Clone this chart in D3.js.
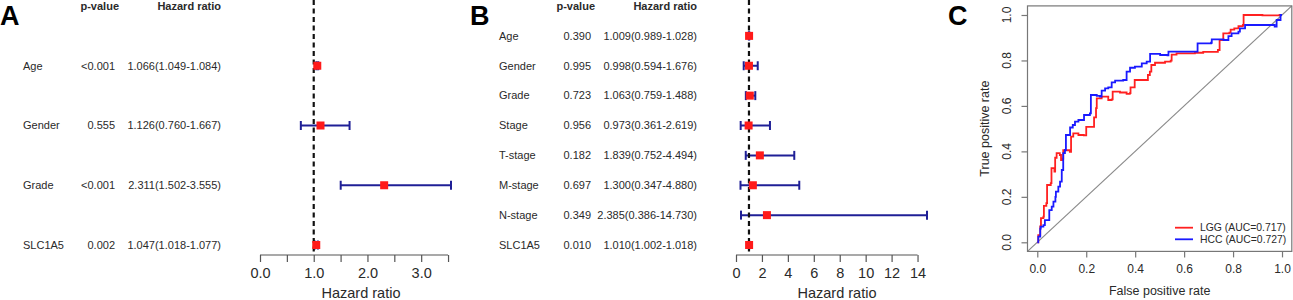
<!DOCTYPE html>
<html><head><meta charset="utf-8">
<script src="https://cdn.jsdelivr.net/npm/d3@7"></script>
<style>body{margin:0;background:#fff}svg{display:block;font-family:"Liberation Sans",Arial,Helvetica,sans-serif}</style>
</head><body><svg id="c" width="1293" height="300"></svg>
<script>
// ---- Panel A data ----
const catsA = ["Age","Gender","Grade","SLC1A5"];
const pA    = ["<0.001","0.555","<0.001","0.002"];
const hrA   = [1.066,1.126,2.311,1.047];
const lowA  = [1.049,0.760,1.502,1.018];
const highA = [1.084,1.667,3.555,1.077];
const ticksA = [0,0.5,1,1.5,2,2.5,3,3.5];
const tickLabelsA = ["0.0","","1.0","","2.0","","3.0",""];
// ---- Panel B data ----
const catsB = ["Age","Gender","Grade","Stage","T-stage","M-stage","N-stage","SLC1A5"];
const pB    = ["0.390","0.995","0.723","0.956","0.182","0.697","0.349","0.010"];
const hrB   = [1.009,0.998,1.063,0.973,1.839,1.300,2.385,1.010];
const lowB  = [0.989,0.594,0.759,0.361,0.752,0.347,0.386,1.002];
const highB = [1.028,1.676,1.488,2.619,4.494,4.880,14.730,1.018];
const ticksB = [0,2,4,6,8,10,12,14];
const tickLabelsB = ["0","2","4","6","8","10","12","14"];
// ---- Panel C data (ROC) ----
const lggFpr = [0,0.004,0.012,0.015,0.025,0.027,0.037,0.040,0.055,0.058,0.070,0.073,0.079,0.092,0.097,0.104,0.106,0.133,0.138,0.147,0.168,0.190,0.195,0.200,0.228,0.232,0.240,0.243,0.263,0.285,0.290,0.304,0.308,0.338,0.365,0.378,0.381,0.395,0.398,0.440,0.452,0.460,0.466,0.481,0.522,0.545,0.549,0.569,0.644,0.678,0.738,0.745,0.760,0.785,0.790,0.805,0.822,0.840,0.843,0.920,0.990,1];
const lggTpr = [0,0.032,0.070,0.106,0.113,0.160,0.172,0.252,0.260,0.326,0.311,0.372,0.392,0.384,0.362,0.368,0.405,0.398,0.465,0.479,0.472,0.470,0.470,0.508,0.508,0.550,0.590,0.633,0.641,0.641,0.626,0.629,0.663,0.659,0.653,0.656,0.682,0.682,0.714,0.714,0.736,0.751,0.780,0.790,0.795,0.799,0.826,0.831,0.834,0.838,0.846,0.890,0.919,0.922,0.936,0.941,0.951,0.956,1.000,0.998,1.000,1];
const hccFpr = [0,0.004,0.012,0.014,0.025,0.031,0.045,0.049,0.059,0.066,0.074,0.076,0.086,0.093,0.100,0.100,0.106,0.106,0.113,0.117,0.134,0.145,0.154,0.168,0.181,0.191,0.215,0.219,0.243,0.256,0.263,0.277,0.290,0.304,0.318,0.351,0.365,0.379,0.399,0.427,0.447,0.461,0.502,0.532,0.536,0.651,0.655,0.710,0.713,0.761,0.781,0.794,0.822,0.828,0.849,0.944,0.970,0.978,0.994,1];
const hccTpr = [0,0.025,0.060,0.069,0.076,0.098,0.098,0.142,0.157,0.179,0.200,0.223,0.245,0.267,0.285,0.318,0.347,0.392,0.406,0.472,0.505,0.516,0.531,0.538,0.538,0.560,0.567,0.648,0.644,0.641,0.667,0.677,0.682,0.704,0.711,0.714,0.751,0.768,0.773,0.787,0.795,0.829,0.824,0.822,0.839,0.839,0.875,0.878,0.893,0.890,0.907,0.919,0.927,0.941,0.956,0.956,0.949,0.978,1.000,1];
const rocTicks = [0,0.2,0.4,0.6,0.8,1.0];
const legendLabels = ["LGG (AUC=0.717)","HCC (AUC=0.727)"];

const svg = d3.select("#c");
const TXT = "#2a2a2a", AX = "#555";
const f3 = d3.format(".3f");

function forest(off, letter, letterX, cats, pv, hr, lo, hi, ticks, tickLabels) {
  svg.append("text").attr("x", letterX).attr("y", 25).attr("font-size", 27).attr("font-weight", "bold").attr("fill", "#000").text(letter);
  const g = svg.append("g").attr("transform", `translate(${off},0)`);
  const n = cats.length;
  const y = d3.scaleLinear().domain([-1, n - 1]).range([6, 245]);
  const x = d3.scaleLinear().domain([0, d3.max(hi)]).range([260, 451]);
  const axisY = 255;
  g.append("text").attr("x", 119).attr("y", y(-1)).attr("dy", ".35em").attr("text-anchor", "end").attr("font-size", 11).attr("font-weight", "bold").attr("fill", TXT).text("p-value");
  g.append("text").attr("x", 221).attr("y", y(-1)).attr("dy", ".35em").attr("text-anchor", "end").attr("font-size", 11).attr("font-weight", "bold").attr("fill", TXT).text("Hazard ratio");
  const rows = g.selectAll("g.row").data(cats.map((c, i) => ({c, i, p: pv[i], hr: hr[i], lo: lo[i], hi: hi[i]}))).join("g");
  rows.append("text").attr("x", 23).attr("y", d => y(d.i)).attr("dy", ".35em").attr("font-size", 11).attr("fill", TXT).text(d => d.c);
  rows.append("text").attr("x", 115).attr("y", d => y(d.i)).attr("dy", ".35em").attr("text-anchor", "end").attr("font-size", 11).attr("fill", TXT).text(d => d.p);
  rows.append("text").attr("x", 221).attr("y", d => y(d.i)).attr("dy", ".35em").attr("text-anchor", "end").attr("font-size", 11).attr("fill", TXT).text(d => `${f3(d.hr)}(${f3(d.lo)}-${f3(d.hi)})`);
  // CI
  const ci = g.append("g").attr("stroke", "#1f1f96").attr("stroke-width", 2);
  ci.selectAll("line.h").data(rows.data()).join("line").attr("x1", d => x(d.lo)).attr("x2", d => x(d.hi)).attr("y1", d => y(d.i)).attr("y2", d => y(d.i));
  ci.selectAll("line.l").data(rows.data()).join("line").attr("x1", d => x(d.lo)).attr("x2", d => x(d.lo)).attr("y1", d => y(d.i) - 4.5).attr("y2", d => y(d.i) + 4.5);
  ci.selectAll("line.r").data(rows.data()).join("line").attr("x1", d => x(d.hi)).attr("x2", d => x(d.hi)).attr("y1", d => y(d.i) - 4.5).attr("y2", d => y(d.i) + 4.5);
  // reference line
  g.append("line").attr("x1", x(1)).attr("x2", x(1)).attr("y1", 0).attr("y2", axisY).attr("stroke", "#111").attr("stroke-width", 2.2).attr("stroke-dasharray", "5,3.5");
  // points
  g.selectAll("rect.pt").data(rows.data()).join("rect").attr("x", d => x(d.hr) - 4).attr("y", d => y(d.i) - 4).attr("width", 8).attr("height", 8).attr("fill", "#ff1a1a");
  // axis
  g.append("line").attr("x1", x(ticks[0])).attr("x2", x(ticks[ticks.length - 1])).attr("y1", axisY).attr("y2", axisY).attr("stroke", AX).attr("stroke-width", 1.2);
  const ax = g.append("g").attr("transform", `translate(0,${axisY})`)
    .call(d3.axisBottom(x).tickValues(ticks).tickFormat((d, i) => tickLabels[i]).tickSize(7).tickPadding(6).tickSizeOuter(0));
  ax.select(".domain").remove();
  ax.selectAll("line").attr("stroke", AX).attr("stroke-width", 1.2);
  ax.selectAll("text").attr("font-size", 14.5).attr("fill", TXT).attr("font-family", "Liberation Sans, Arial, sans-serif");
  g.append("text").attr("x", 361).attr("y", 298).attr("text-anchor", "middle").attr("font-size", 14.5).attr("fill", TXT).text("Hazard ratio");
}
forest(0, "A", 0, catsA, pA, hrA, lowA, highA, ticksA, tickLabelsA);
forest(476, "B", 470, catsB, pB, hrB, lowB, highB, ticksB, tickLabelsB);

// ---- Panel C ----
const gc = svg.append("g");
gc.append("text").attr("x", 948).attr("y", 25).attr("font-size", 27).attr("font-weight", "bold").attr("fill", "#000").text("C");
const xs = d3.scaleLinear().domain([-0.04, 1.04]).range([1027.5, 1291.8]);
const ys = d3.scaleLinear().domain([-0.04, 1.04]).range([251.4, 5.9]);
const BOX = "#777";
gc.append("line").attr("x1", xs(-0.04)).attr("y1", ys(-0.04)).attr("x2", xs(1.04)).attr("y2", ys(1.04)).attr("stroke", "#8a8a8a").attr("stroke-width", 1.2);
const line = d3.line().x(d => xs(d[0])).y(d => ys(d[1])).curve(d3.curveStepAfter);
const lgg = lggFpr.map((v, i) => [v, lggTpr[i]]);
const hcc = hccFpr.map((v, i) => [v, hccTpr[i]]);
gc.append("path").attr("d", line(lgg)).attr("fill", "none").attr("stroke", "#ff2020").attr("stroke-width", 1.8);
gc.append("path").attr("d", line(hcc)).attr("fill", "none").attr("stroke", "#1a1aff").attr("stroke-width", 1.8);
gc.append("rect").attr("x", xs(-0.04)).attr("y", ys(1.04)).attr("width", xs(1.04) - xs(-0.04)).attr("height", ys(-0.04) - ys(1.04)).attr("fill", "none").attr("stroke", BOX).attr("stroke-width", 1.2);
const axx = gc.append("g").attr("transform", `translate(0,${ys(-0.04)})`)
  .call(d3.axisBottom(xs).tickValues(rocTicks).tickFormat(d3.format(".1f")).tickSize(6).tickPadding(7.5).tickSizeOuter(0));
axx.select(".domain").remove();
axx.selectAll("line").attr("stroke", BOX).attr("stroke-width", 1.2);
axx.selectAll("text").attr("font-size", 12).attr("fill", TXT).attr("font-family", "Liberation Sans, Arial, sans-serif");
const axy = gc.append("g").attr("transform", `translate(${xs(-0.04)},0)`)
  .call(d3.axisLeft(ys).tickValues(rocTicks).tickFormat("").tickSize(6).tickSizeOuter(0));
axy.select(".domain").remove();
axy.selectAll("line").attr("stroke", BOX).attr("stroke-width", 1.2);
gc.selectAll("text.yl").data(rocTicks).join("text").attr("class", "yl")
  .attr("transform", d => `translate(1006.7,${ys(d)}) rotate(-90)`).attr("dy", ".35em").attr("text-anchor", "middle")
  .attr("font-size", 12).attr("fill", TXT).text(d3.format(".1f"));
gc.append("text").attr("transform", `translate(985,${(ys(0) + ys(1)) / 2}) rotate(-90)`).attr("dy", ".35em").attr("text-anchor", "middle").attr("font-size", 12.5).attr("fill", TXT).text("True positive rate");
gc.append("text").attr("x", (xs(0) + xs(1)) / 2).attr("y", 295).attr("text-anchor", "middle").attr("font-size", 12.5).attr("fill", TXT).text("False positive rate");
// legend
const legColors = ["#ff2020", "#1a1aff"];
const lg = gc.selectAll("g.lg").data(legendLabels).join("g").attr("transform", (d, i) => `translate(0,${227.7 + i * 11.6})`);
lg.append("line").attr("x1", 1175).attr("x2", 1193).attr("y1", 0).attr("y2", 0).attr("stroke", (d, i) => legColors[i]).attr("stroke-width", 1.8);
lg.append("text").attr("x", 1200).attr("dy", ".35em").attr("font-size", 10.4).attr("fill", TXT).text(d => d);
</script></body></html>
